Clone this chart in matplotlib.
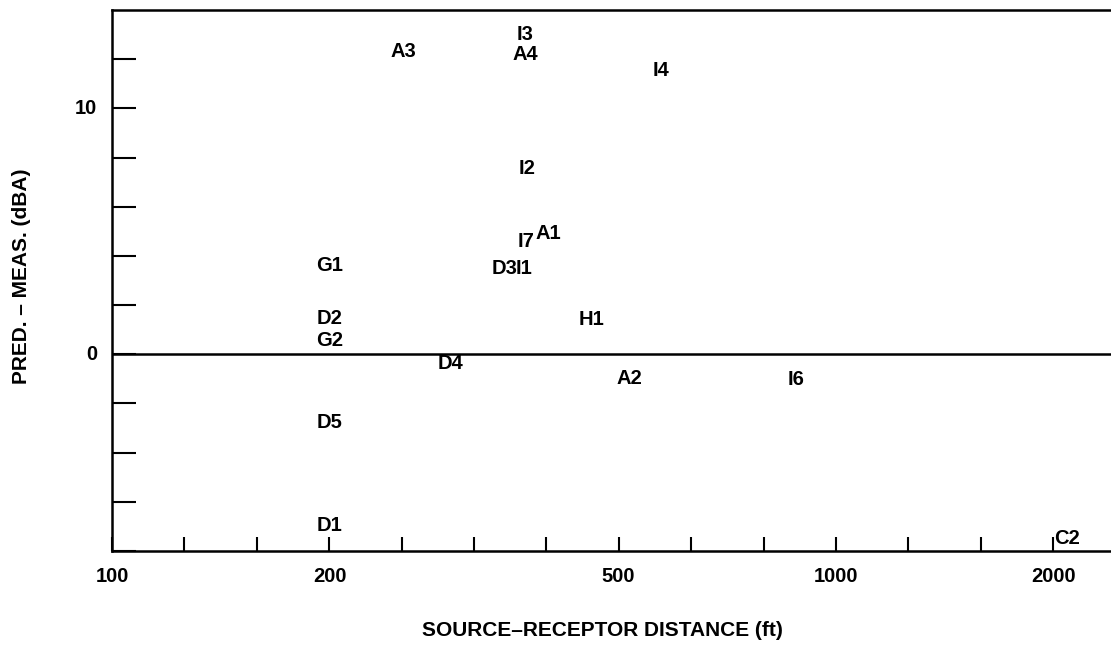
import matplotlib
matplotlib.use("Agg")
import matplotlib.pyplot as plt
import numpy as np

plt.rcParams['font.family'] = ['Liberation Sans', 'DejaVu Sans']

# site codes with source-receptor distance (ft) and pred. - meas. (dBA)
labels = ['A3', 'I3', 'A4', 'I4', 'I2', 'A1', 'I7', 'D3', 'I1', 'G1',
          'D2', 'G2', 'H1', 'D4', 'A2', 'I6', 'D5', 'D1', 'C2']
distance = [253, 372, 372, 573, 374, 400, 373, 348, 371, 200,
            200, 200, 460, 293, 518, 881, 200, 200, 2084]
diff_dba = [12.3, 13.0, 12.2, 11.55, 7.55, 4.9, 4.57, 3.5, 3.5, 3.6,
            1.47, 0.57, 1.43, -0.37, -0.98, -1.02, -2.78, -6.98, -7.5]

xtick_vals = [100, 200, 500, 1000, 2000]
ytick_vals = [0, 10]

fig = plt.figure(figsize=(11.11, 6.52), dpi=100)
ax = fig.add_axes([112/1111, 1 - 551/652, 1 - 112/1111, (551 - 10)/652])

ax.set_xscale('log')
ax.set_xlim(100, 2398)
ax.set_ylim(-8, 14)

for lab, x, y in zip(labels, distance, diff_dba):
    ax.text(x, y, lab, ha='center', va='center', fontsize=14.5, fontweight='bold')

ax.axhline(0, color='black', lw=1.8)

ax.spines['right'].set_visible(False)
for s in ['left', 'top', 'bottom']:
    ax.spines[s].set_linewidth(1.8)

# ticks every tenth of a decade on x, every 2 dBA on y, pointing inward
ax.set_xticks(10 ** np.arange(2, 3.4, 0.1))
ax.set_xticklabels([])
ax.xaxis.set_minor_locator(matplotlib.ticker.NullLocator())
ax.tick_params(axis='x', direction='in', length=10, width=1.5)
ax.set_yticks(np.arange(-8, 14, 2))
ax.set_yticklabels([])
ax.tick_params(axis='y', direction='in', length=17, width=1.5)

ytrans = matplotlib.transforms.blended_transform_factory(fig.transFigure, ax.transData)
xtrans = matplotlib.transforms.blended_transform_factory(ax.transData, fig.transFigure)
for v in xtick_vals:
    ax.text(v, 1 - 576/652, str(v), ha='center', va='center', fontsize=14.5,
            fontweight='bold', transform=xtrans)
for v in ytick_vals:
    ax.text(97/1111, v, str(v), ha='right', va='center', fontsize=14.5,
            fontweight='bold', transform=ytrans)

fig.text(602/1111, 1 - 630/652, 'SOURCE\u2013RECEPTOR DISTANCE (ft)', ha='center', va='center',
         fontsize=15, fontweight='bold')
fig.text(22/1111, 1 - 276/652, 'PRED. \u2013 MEAS. (dBA)', ha='center', va='center',
         fontsize=15, fontweight='bold', rotation=90)

fig.savefig('out.png', dpi=100)
